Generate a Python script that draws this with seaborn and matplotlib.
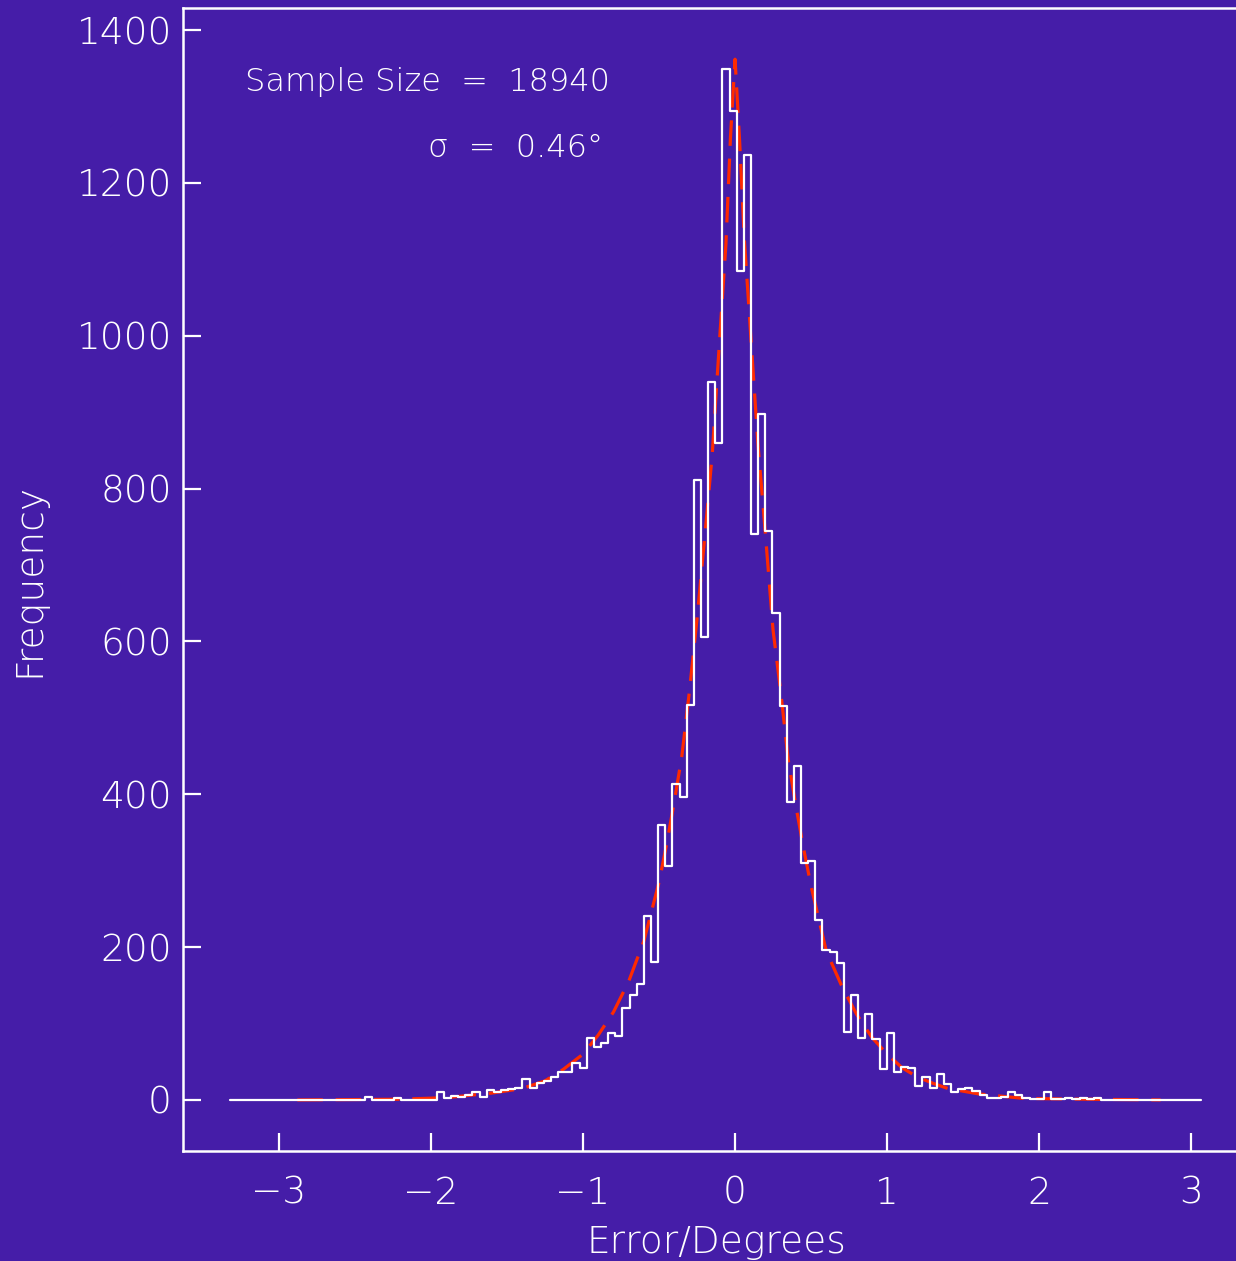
import numpy as np
import pandas as pd
import matplotlib
matplotlib.use("Agg")
from matplotlib import pyplot as plt
import seaborn as sns

# histogram bin layout (degrees)
bin_start = -3.326
bin_width = 0.047

# counts, left tail -> peak -> right tail
left_tail_counts = [0, 0, 0, 0, 0, 0, 0, 0, 0, 0, 0, 0, 0, 0, 0, 0, 0, 0, 0,
                    4, 0, 0, 0, 2, 0, 0, 0, 0, 0]
left_core_counts = [10, 2, 5, 4, 7, 11, 4, 13, 11, 13, 14, 15, 27, 15, 22, 25,
                    30, 37, 37, 48, 42, 81, 69, 75, 87, 84, 120, 137, 152, 241,
                    181, 360, 306, 414, 396, 517, 811, 606, 940, 860]
right_core_counts = [1349, 1294, 1085, 1237, 740, 898, 744, 637, 515, 390, 437,
                     310, 313, 236, 196, 194, 179, 89, 137, 81, 113, 80, 41, 87,
                     37, 43, 42, 18, 30, 15, 34, 21, 10, 14, 15, 12, 7, 3, 3, 4,
                     10, 6, 3, 1, 1, 10, 1, 1, 3, 1, 3, 1, 3]
right_tail_counts = [0, 0, 0, 0, 0, 0, 0, 0, 0, 0, 0, 0, 0, 0]

# fitted curve (red dashed), sampled from the plot
fit_x = [-2.88, -2.5, -2.2, -1.9, -1.6, -1.4, -1.25, -1.13, -1.0, -0.9, -0.8,
         -0.7, -0.6, -0.5, -0.45, -0.4, -0.35, -0.3, -0.25, -0.2, -0.15, -0.1,
         -0.06, -0.03, 0.0, 0.03, 0.06, 0.1, 0.15, 0.2, 0.25, 0.3, 0.35, 0.4,
         0.45, 0.5, 0.6, 0.7, 0.8, 0.9, 1.0, 1.1, 1.2, 1.3, 1.4, 1.6, 1.9, 2.3,
         2.8]
fit_y = [0, 0.5, 1, 3, 9, 15, 25, 40, 60, 85, 115, 155, 208, 285, 335, 390,
         450, 535, 630, 735, 845, 1000, 1120, 1260, 1362, 1255, 1130, 1010, 860,
         740, 615, 535, 445, 385, 330, 280, 195, 150, 112, 82, 60, 42, 30, 22,
         15, 8, 2, 1, 0]

sample_text = "Sample Size  =  18940"
sigma_text = "σ  =  0.46°"

bg = "#451da8"
fg = "white"

hist_counts = np.array(left_tail_counts + left_core_counts
                       + right_core_counts + right_tail_counts, dtype=float)
n_bins = len(hist_counts)
hist_df = pd.DataFrame({
    "error": bin_start + bin_width * (np.arange(n_bins) + 0.5),
    "count": hist_counts,
})
fit_df = pd.DataFrame({"error": fit_x, "freq": fit_y})

sns.set_style("ticks")
plt.rcParams["font.family"] = ["DejaVu Sans"]
plt.rcParams["font.weight"] = "light"
plt.rcParams["axes.labelweight"] = "light"

W, H = 1236, 1261
fig = plt.figure(figsize=(W / 100, H / 100), dpi=100, facecolor=bg)
ax = fig.add_axes([183 / W, (H - 1151) / H, (1250 - 183) / W, (1151 - 8) / H])
ax.set_facecolor(bg)

# fitted curve under the histogram outline
sns.lineplot(data=fit_df, x="error", y="freq", color="#ff2a00", linewidth=2.3,
             linestyle=(0, (8, 4)), ax=ax, zorder=2)
sns.histplot(data=hist_df, x="error", weights="count", binwidth=bin_width,
             binrange=(bin_start, bin_start + n_bins * bin_width),
             element="step", fill=False, color=fg, linewidth=1.6,
             ax=ax, zorder=3)

ax.set_xlim(-3.632, 3.388)
ax.set_ylim(-66.8, 1429)
ax.set_xticks([-3, -2, -1, 0, 1, 2, 3])
ax.set_yticks([0, 200, 400, 600, 800, 1000, 1200, 1400])

for side in ["left", "bottom", "top"]:
    ax.spines[side].set_color(fg)
    ax.spines[side].set_linewidth(1.8)
ax.spines["right"].set_visible(False)

ax.tick_params(axis="both", direction="in", colors=fg, width=1.6,
               length=13, labelsize=27)
ax.tick_params(axis="x", pad=18)
ax.tick_params(axis="y", pad=8)

ax.set_xlabel("Error/Degrees", color=fg, fontsize=27, fontweight="light",
              labelpad=10)
ax.set_ylabel("Frequency", color=fg, fontsize=27, fontweight="light",
              labelpad=22)

ax.text(0.058, 0.9354, sample_text, transform=ax.transAxes, ha="left",
        va="center", fontsize=23, color=fg)
ax.text(0.2296, 0.8774, sigma_text, transform=ax.transAxes, ha="left",
        va="center", fontsize=23, color=fg)

plt.savefig("out.png", dpi=100, facecolor=bg)
plt.close()
